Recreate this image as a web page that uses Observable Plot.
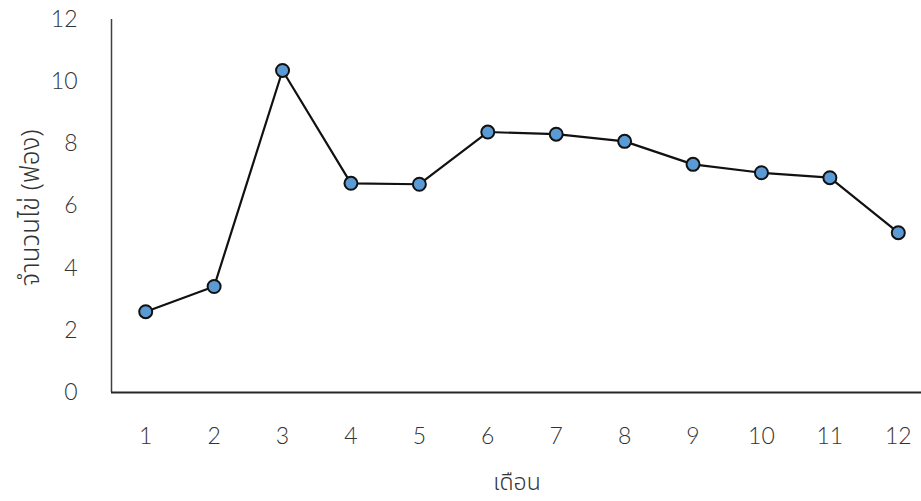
<!DOCTYPE html>
<html>
<head>
<meta charset="utf-8">
<script src="https://cdn.jsdelivr.net/npm/d3@7"></script>
<script src="https://cdn.jsdelivr.net/npm/@observablehq/plot@0.6"></script>
<style>
  html, body { margin: 0; padding: 0; background: #fff; }
  #chart svg { display: block; }
</style>
</head>
<body>
<div id="chart"></div>
<script>
const months = [1, 2, 3, 4, 5, 6, 7, 8, 9, 10, 11, 12];
const eggs = [2.6, 3.41, 10.36, 6.73, 6.7, 8.38, 8.31, 8.08, 7.34, 7.07, 6.91, 5.14];
const yTicks = [0, 2, 4, 6, 8, 10, 12];
const xTitle = "เดือน";
const yTitle = "จำนวนไข่ (ฟอง)";

const data = months.map((m, i) => ({month: m, value: eggs[i]}));
const font = "Lato, 'Noto Sans', 'Noto Sans Thai', sans-serif";
const thaiFont = "'Noto Sans Thai', 'Noto Sans', sans-serif";

const chart = Plot.plot({
  width: 921,
  height: 501,
  marginLeft: 111,
  marginRight: -11,
  marginTop: 19,
  marginBottom: 109,
  style: {fontFamily: font, fontSize: "23px", background: "#fff", overflow: "hidden"},
  x: {type: "linear", domain: [0.5, 12.5]},
  y: {domain: [0, 12]},
  marks: [
    Plot.axisY({ticks: yTicks, tickSize: 0, tickPadding: 34, label: null, fontSize: 23, fontWeight: 300, fill: "#333"}),
    Plot.axisX({ticks: months, tickSize: 0, tickPadding: 35, label: null, fontSize: 23, fontWeight: 300, fill: "#333", tickFormat: d3.format("d")}),
    Plot.ruleX([0.5], {y1: 0, y2: 12, stroke: "#404040", strokeWidth: 1.5}),
    Plot.ruleY([0], {stroke: "#262626", strokeWidth: 1.8}),
    Plot.line(data, {x: "month", y: "value", stroke: "#111", strokeWidth: 2.2}),
    Plot.dot(data, {x: "month", y: "value", r: 6.5, fill: "#5b9bd5", stroke: "#111", strokeWidth: 2}),
    Plot.text([xTitle], {frameAnchor: "bottom", dy: 97, dx: -5, fontSize: 23, fill: "#333", fontFamily: thaiFont, fontWeight: 300}),
    Plot.text([yTitle], {frameAnchor: "left", textAnchor: "middle", dx: -81, dy: 2, rotate: -90, fontSize: 26, fill: "#333", fontFamily: thaiFont, fontWeight: 300})
  ]
});
document.getElementById("chart").appendChild(chart);
</script>
</body>
</html>
